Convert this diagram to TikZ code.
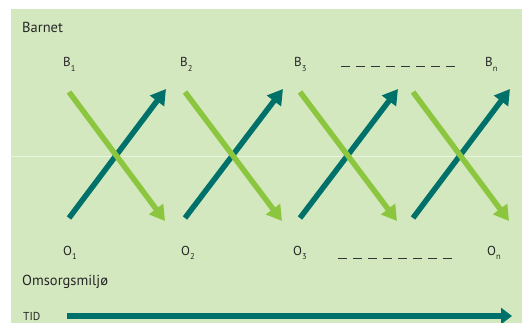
\documentclass[tikz,border=0pt]{standalone}
\usepackage{fontspec}
\setmainfont{PT Sans}
\usetikzlibrary{arrows.meta}
\definecolor{bgreen}{HTML}{D3E8BE}
\definecolor{lgreen}{HTML}{8CC63F}
\definecolor{dteal}{HTML}{00716A}
\newcommand\sbs[1]{\raisebox{-0.35em}{\fontsize{8.5}{9}\selectfont #1}}
\tikzset{
  lbl/.style={anchor=base west, inner sep=0pt, font=\fontsize{13}{15}\selectfont, text=black!85},
  title/.style={anchor=base west, inner sep=0pt, font=\fontsize{14.5}{16}\selectfont, text=black!85},
  up/.style={draw=dteal, line width=5.5pt, -{Triangle[length=15pt,width=17pt]}},
  down/.style={draw=lgreen, line width=5.5pt, -{Triangle[length=15pt,width=17pt]}},
  dots/.style={draw=black!80, line width=0.7pt, dash pattern=on 9pt off 6pt},
}
\begin{document}
\begin{tikzpicture}[x=1pt,y=-1pt]
\path[use as bounding box, fill=white] (0,0) rectangle (522,323);
\fill[bgreen] (11,9) rectangle (522,323);
\draw[white!50!bgreen, line width=1pt] (11,157) -- (522,157);

\node[title] (barnet) at (22,33) {Barnet};
\node[title] (omsorg) at (22,285) {Omsorgsmiljø};
\node[anchor=base west, inner sep=0pt, font=\fontsize{11.5}{13}\selectfont, text=black!85] (tid) at (23,320) {TID};

\node[lbl] (b1) at (63,67) {B\sbs{1}};
\node[lbl] (b2) at (180,67) {B\sbs{2}};
\node[lbl] (b3) at (294,67) {B\sbs{3}};
\node[lbl] (bn) at (485,67) {B\sbs{n}};
\node[lbl] (o1) at (63,255) {O\sbs{1}};
\node[lbl] (o2) at (181,255) {O\sbs{2}};
\node[lbl] (o3) at (293,255) {O\sbs{3}};
\node[lbl] (on) at (487,255) {O\sbs{n}};

\coordinate (dt1) at (341,66); \coordinate (dt2) at (458,66);
\coordinate (db1) at (338,258); \coordinate (db2) at (455,258);
\draw[dots] (dt1) -- (dt2);
\draw[dots] (db1) -- (db2);

% crosses
\foreach \i/\a/\b in {1/69/166, 2/185/283, 3/300/398, 4/413/510}{
  \coordinate (ul\i) at (\a,218);
  \coordinate (ut\i) at (\b,89);
  \coordinate (dl\i) at (\a,92);
  \coordinate (dt\i x) at (\b-1,221);
  \draw[up] (ul\i) -- (ut\i);
  \draw[down] (dl\i) -- (dt\i x);
}

\coordinate (t1) at (67,316);
\coordinate (t2) at (512,316);
\draw[draw=dteal, line width=6pt, -{Triangle[length=11pt,width=16pt]}] (t1) -- (t2);
\end{tikzpicture}
\end{document}
